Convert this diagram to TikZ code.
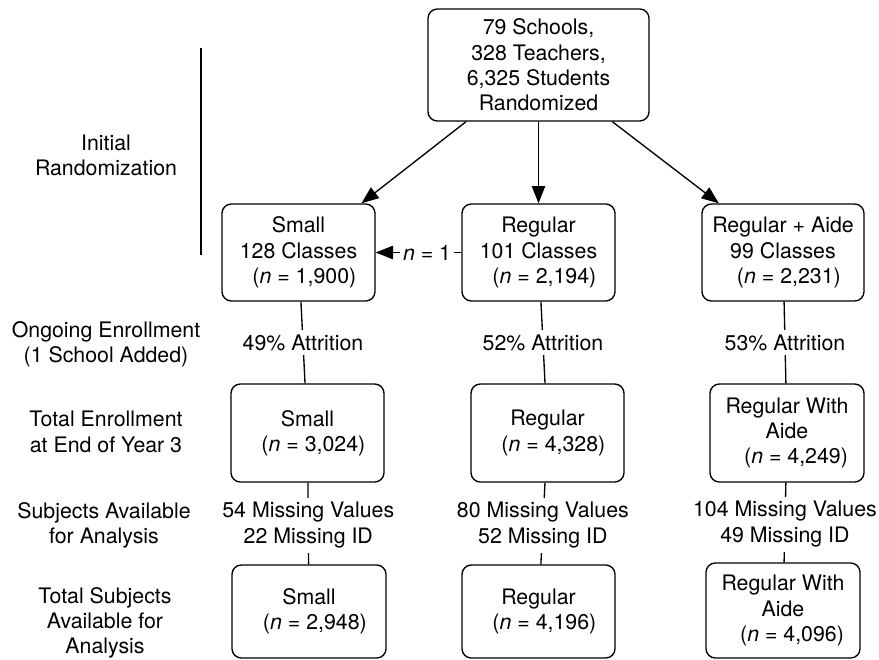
\documentclass[tikz,border=0pt]{standalone}
\usepackage{fontspec}
\setmainfont{TeX Gyre Heros}
\usetikzlibrary{arrows.meta}
\newcommand\nval[2][.55em]{\hspace*{#1}(\textit{n} = #2)}
\begin{document}
\begin{tikzpicture}[x=.75pt,y=-.75pt,font=\fontsize{16}{19}\selectfont,line width=1pt,
  box/.style={draw,rounded corners=7pt,align=center,inner sep=0pt},
  lbl/.style={align=center,inner sep=0pt},
  cut/.style={fill=white,align=center,inner sep=3.5pt},
  arr/.style={-{Triangle[length=13pt,width=10pt]}}]
\useasboundingbox(0,0)rectangle(879,660);
\node[box,minimum width=221*.75pt,minimum height=112*.75pt](top)at(538.5,65){79 Schools,\\328 Teachers,\\6,325 Students\\Randomized};
\foreach\n/\x/\y/\w/\h/\t in{small1/298.5/252.5/153/97/{Small\\128 Classes\\\nval{1,900}},
  reg1/538.5/252.5/153/97/{Regular\\101 Classes\\\nval{2,194}},
  aide1/783/252.5/162/97/{Regular + Aide\\99 Classes\\\nval{2,231}},
  small2/307.5/433/153/98/{Small\\\nval{3,024}},
  reg2/547.5/433/153/98/{Regular\\\nval{4,328}},
  aide2/787/433/154/98/{Regular With\\Aide\\\nval[.85em]{4,249}},
  small3/309/611.5/154/93/{Small\\\nval{2,948}},
  reg3/538.5/611.5/153/93/{Regular\\\nval{4,196}},
  aide3/783/610.5/154/95/{Regular With\\Aide\\\nval[.85em]{4,096}}}
  {\node[box,minimum width=\w*.75pt,minimum height=\h*.75pt](\n)at(\x,\y){\t};}
% row labels
\node[lbl](init)at(106,155.5){Initial\\Randomization};
\node[lbl](ongoing)at(106,344.5){Ongoing Enrollment\\(1 School Added)};
\node[lbl](total)at(106,432){Total Enrollment\\at End of Year 3};
\node[lbl](avail)at(104,525.5){Subjects Available\\for Analysis};
\node[lbl](final)at(105,623){Total Subjects\\Available for\\Analysis};
\coordinate(L1)at(201,48);\coordinate(L2)at(201,255);
\draw(L1)--(L2);
% randomization
\foreach\b in{small1,reg1,aide1}{\draw[arr](top)--(\b);}
\draw[arr](reg1)--node[cut,pos=.4,inner sep=2pt]{\textit{n} = 1}(small1);
% follow up
\foreach\a/\b/\t in{small1/small2/49\% Attrition,reg1/reg2/52\% Attrition,aide1/aide2/53\% Attrition}
  {\draw(\a)--node[cut]{\t}(\b);}
\foreach\a/\b/\t in{small2/small3/{54 Missing Values\\22 Missing ID},reg2/reg3/{80 Missing Values\\52 Missing ID},aide2/aide3/{104 Missing Values\\49 Missing ID}}
  {\draw(\a)--node[cut,pos=.52]{\t}(\b);}
\end{tikzpicture}
\end{document}
